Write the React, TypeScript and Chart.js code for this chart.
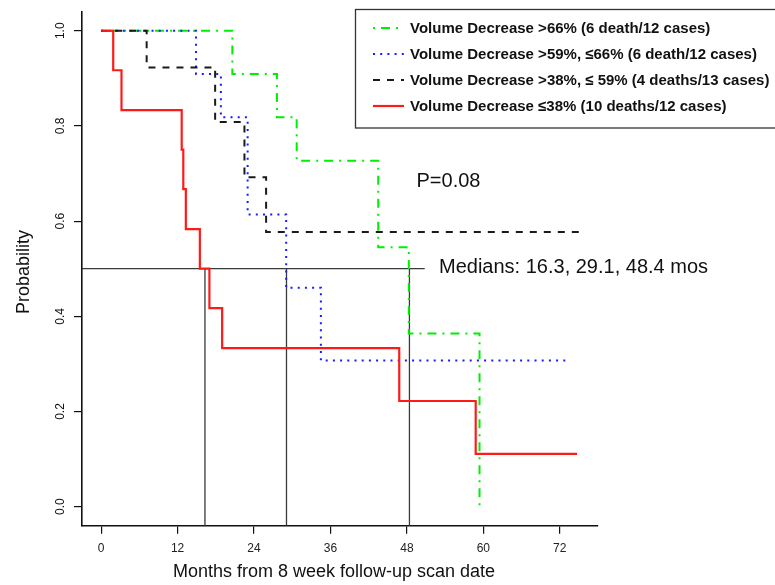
import React, { useEffect, useRef } from 'react';
import { Chart, registerables } from 'chart.js';

Chart.register(...registerables);

// Axis ticks / ranges
const xTicks = [0, 12, 24, 36, 48, 60, 72];
const yTicks = [0, 0.2, 0.4, 0.6, 0.8, 1.0];
const xRange = [-3, 78];
const yRange = [-0.04, 1.04];

// Kaplan-Meier curves: times (months) and survival after each step; last entry is end of follow-up
const greenTimes = [0, 20.6, 27.6, 30.7, 43.5, 48.3, 59.4];
const greenSurv = [1, 0.909, 0.818, 0.727, 0.545, 0.364, 0];
const blueTimes = [0, 14.9, 18.8, 23.0, 29.05, 34.5, 73.3];
const blueSurv = [1, 0.909, 0.818, 0.614, 0.46, 0.307, 0.307];
const blackTimes = [0, 7.15, 17.9, 22.5, 25.9, 75];
const blackSurv = [1, 0.923, 0.808, 0.692, 0.577, 0.577];
const redTimes = [0, 1.9, 3.2, 12.65, 12.9, 13.3, 15.5, 17.0, 19.0, 46.8, 58.8, 74.7];
const redSurv = [1, 0.917, 0.833, 0.75, 0.667, 0.583, 0.5, 0.417, 0.333, 0.222, 0.111, 0.111];

// Median reference lines
const medianLevel = 0.5;
const medians = [16.3, 29.1, 48.4];
const medianLineEnd = 50.8;

const legendLabels = [
  'Volume Decrease >66% (6 death/12 cases)',
  'Volume Decrease >59%, \u226466% (6 death/12 cases)',
  'Volume Decrease >38%, \u2264 59% (4 deaths/13 cases)',
  'Volume Decrease \u226438% (10 deaths/12 cases)',
];
const pValueText = 'P=0.08';
const mediansText = 'Medians: 16.3, 29.1, 48.4 mos';
const xTitle = 'Months from 8 week follow-up scan date';
const yTitle = 'Probability';

const FONT = '"Liberation Sans", Arial, sans-serif';

const curveStyles = [
  { color: '#00ee00', dash: [2, 6, 9, 6], width: 2 },
  { color: '#1a1aff', dash: [2, 5.2], width: 2 },
  { color: '#1a1a1a', dash: [7, 7], width: 2 },
  { color: '#ff1a1a', dash: [], width: 2.2 },
];

const toPts = (t: number[], s: number[]) => t.map((x, i) => ({ x, y: s[i] }));

export default function App() {
  const ref = useRef<HTMLCanvasElement | null>(null);

  useEffect(() => {
    if (!ref.current) return;
    const curves = [
      toPts(greenTimes, greenSurv),
      toPts(blueTimes, blueSurv),
      toPts(blackTimes, blackSurv),
      toPts(redTimes, redSurv),
    ];
    const curveSets = curves.map((data, i) => ({
      data,
      stepped: true as const,
      borderColor: curveStyles[i].color,
      borderDash: curveStyles[i].dash,
      borderWidth: curveStyles[i].width,
      borderCapStyle: 'butt' as const,
      pointRadius: 0,
      fill: false,
      order: i === 3 ? 0 : 4 - i,
    }));
    const medianSets = [
      [
        { x: xRange[0], y: medianLevel },
        { x: medianLineEnd, y: medianLevel },
      ],
      ...medians.map((m) => [
        { x: m, y: medianLevel },
        { x: m, y: yRange[0] },
      ]),
    ].map((data) => ({
      data,
      borderColor: '#3a3a3a',
      borderWidth: 1.3,
      pointRadius: 0,
      fill: false,
      order: 10,
    }));

    const overlay = {
      id: 'overlay',
      afterDraw(chart: any) {
        const ctx = chart.ctx as CanvasRenderingContext2D;
        const ys = chart.scales.y;
        ctx.save();
        ctx.fillStyle = '#111';
        // y tick labels (rotated like R)
        ctx.font = `12px ${FONT}`;
        ctx.textAlign = 'center';
        ctx.textBaseline = 'middle';
        yTicks.forEach((v) => {
          const py = ys.getPixelForValue(v);
          ctx.save();
          ctx.translate(61, py);
          ctx.rotate(-Math.PI / 2);
          ctx.fillText(v.toFixed(1), 0, 0);
          ctx.restore();
        });
        // axis titles
        ctx.font = `18px ${FONT}`;
        ctx.save();
        ctx.translate(24, 272);
        ctx.rotate(-Math.PI / 2);
        ctx.fillText(yTitle, 0, 0);
        ctx.restore();
        ctx.fillText(xTitle, 334, 572);
        // annotations
        ctx.font = `20px ${FONT}`;
        ctx.textAlign = 'left';
        ctx.fillText(pValueText, 416.5, 181);
        ctx.fillText(mediansText, 439, 267);
        // legend
        ctx.strokeStyle = '#333';
        ctx.lineWidth = 1.3;
        ctx.strokeRect(355.5, 9.5, 430, 118.5);
        ctx.font = `bold 15px ${FONT}`;
        legendLabels.forEach((lab, i) => {
          const cy = 28 + i * 26;
          const st = curveStyles[i];
          ctx.save();
          ctx.strokeStyle = st.color;
          ctx.lineWidth = st.width;
          ctx.setLineDash(st.dash);
          ctx.lineCap = 'butt';
          ctx.beginPath();
          ctx.moveTo(373, cy);
          ctx.lineTo(404, cy);
          ctx.stroke();
          ctx.restore();
          ctx.fillStyle = '#111';
          ctx.fillText(lab, 410, cy + 0.5);
        });
        ctx.restore();
      },
    };

    const chart = new Chart(ref.current, {
      type: 'line',
      data: { datasets: [...curveSets, ...medianSets] as any },
      options: {
        animation: false,
        responsive: false,
        events: [],
        layout: { padding: { left: 0, top: 11.7, right: 177, bottom: 0 } },
        plugins: { legend: { display: false }, tooltip: { enabled: false } },
        scales: {
          x: {
            type: 'linear',
            min: xRange[0],
            max: xRange[1],
            afterBuildTicks: (s: any) => {
              s.ticks = xTicks.map((value) => ({ value }));
            },
            afterFit: (s: any) => {
              s.height = 59.3;
            },
            ticks: {
              font: { family: FONT, size: 12 },
              color: '#222',
              padding: 8,
              maxRotation: 0,
              autoSkip: false,
              callback: (v: any) => String(v),
            },
            grid: { drawOnChartArea: false, drawTicks: true, tickLength: 8, color: '#111', lineWidth: 1.2 },
            border: { display: true, color: '#111', width: 1.6 },
          },
          y: {
            type: 'linear',
            min: yRange[0],
            max: yRange[1],
            afterBuildTicks: (s: any) => {
              s.ticks = yTicks.map((value) => ({ value }));
            },
            afterFit: (s: any) => {
              s.width = 82;
            },
            ticks: { display: false },
            grid: { drawOnChartArea: false, drawTicks: true, tickLength: 8, color: '#111', lineWidth: 1.2 },
            border: { display: true, color: '#111', width: 1.6 },
          },
        },
      },
      plugins: [overlay],
    });
    return () => chart.destroy();
  }, []);

  return (
    <div style={{ position: 'absolute', left: 0, top: 0, width: 775, height: 585, background: '#fff' }}>
      <canvas ref={ref} width={775} height={585} style={{ display: 'block' }} />
    </div>
  );
}
